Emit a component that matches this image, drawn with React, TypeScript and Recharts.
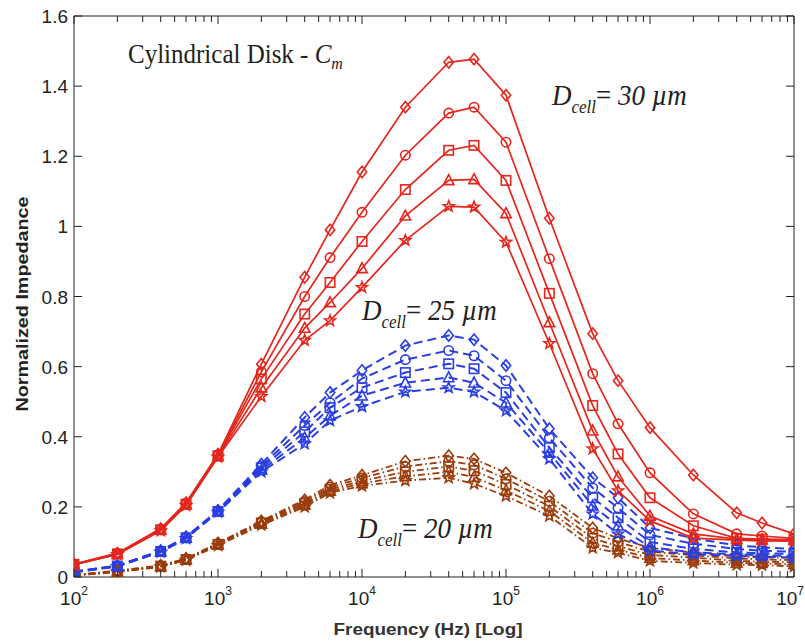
import { LineChart, Line, XAxis, YAxis, ReferenceArea } from 'recharts';

const W = 805;
const H = 643;
const PLOT = { left: 74, top: 16, right: 794, bottom: 577 };

const INK = '#222';
const RED = '#e4261c';
const BLUE = '#2a3fe0';
const BROWN = '#9a3c0c';
const SANS = "'Liberation Sans', Arial, sans-serif";
const SERIF = "'Liberation Serif', 'Times New Roman', serif";

// frequency points (Hz)
const freqs = [100, 200, 400, 600, 1e3, 2e3, 4e3, 6e3, 1e4, 2e4, 4e4, 6e4, 1e5, 2e5, 4e5, 6e5, 1e6, 2e6, 4e6, 6e6, 1e7];

const decadeTicks = [1e2, 1e3, 1e4, 1e5, 1e6, 1e7];
const minorSteps = [2, 3, 4, 5, 6, 7, 8, 9];
const yTicks = [0, 0.2, 0.4, 0.6, 0.8, 1, 1.2, 1.4, 1.6];

// D_cell = 30 um
const d30Diamond = [0.037, 0.068, 0.138, 0.212, 0.35, 0.607, 0.855, 0.99, 1.155, 1.34, 1.468, 1.477, 1.374, 1.023, 0.694, 0.56, 0.426, 0.291, 0.183, 0.154, 0.123];
const d30Circle = [0.036, 0.067, 0.136, 0.21, 0.348, 0.585, 0.8, 0.911, 1.04, 1.203, 1.323, 1.34, 1.24, 0.908, 0.58, 0.437, 0.297, 0.18, 0.123, 0.117, 0.11];
const d30Square = [0.036, 0.066, 0.135, 0.208, 0.346, 0.565, 0.75, 0.84, 0.957, 1.105, 1.217, 1.231, 1.131, 0.809, 0.489, 0.351, 0.226, 0.146, 0.11, 0.108, 0.107];
const d30Triangle = [0.035, 0.065, 0.134, 0.206, 0.344, 0.54, 0.71, 0.783, 0.88, 1.03, 1.131, 1.134, 1.037, 0.726, 0.417, 0.286, 0.174, 0.123, 0.108, 0.106, 0.105];
const d30Star = [0.035, 0.064, 0.132, 0.204, 0.342, 0.515, 0.675, 0.731, 0.826, 0.96, 1.057, 1.055, 0.955, 0.666, 0.366, 0.246, 0.16, 0.111, 0.105, 0.103, 0.102];

// D_cell = 25 um
const d25Diamond = [0.015, 0.033, 0.075, 0.115, 0.19, 0.322, 0.455, 0.526, 0.589, 0.66, 0.689, 0.677, 0.603, 0.423, 0.283, 0.226, 0.14, 0.11, 0.09, 0.085, 0.08];
const d25Circle = [0.015, 0.032, 0.074, 0.113, 0.188, 0.316, 0.432, 0.497, 0.566, 0.62, 0.646, 0.631, 0.56, 0.397, 0.254, 0.197, 0.12, 0.095, 0.08, 0.075, 0.072];
const d25Square = [0.014, 0.031, 0.073, 0.112, 0.187, 0.311, 0.414, 0.483, 0.54, 0.583, 0.608, 0.594, 0.526, 0.369, 0.226, 0.169, 0.1, 0.08, 0.07, 0.068, 0.066];
const d25Triangle = [0.014, 0.031, 0.072, 0.111, 0.186, 0.305, 0.397, 0.46, 0.517, 0.554, 0.569, 0.554, 0.497, 0.354, 0.203, 0.146, 0.085, 0.07, 0.065, 0.062, 0.06];
const d25Star = [0.013, 0.03, 0.071, 0.11, 0.185, 0.3, 0.38, 0.446, 0.486, 0.528, 0.54, 0.528, 0.474, 0.337, 0.18, 0.123, 0.075, 0.065, 0.06, 0.058, 0.055];

// D_cell = 20 um
const d20Diamond = [0.006, 0.018, 0.033, 0.053, 0.097, 0.16, 0.22, 0.262, 0.29, 0.33, 0.346, 0.337, 0.297, 0.231, 0.14, 0.11, 0.083, 0.07, 0.06, 0.055, 0.055];
const d20Circle = [0.005, 0.017, 0.032, 0.051, 0.095, 0.157, 0.215, 0.256, 0.282, 0.315, 0.33, 0.32, 0.28, 0.216, 0.125, 0.1, 0.072, 0.062, 0.053, 0.05, 0.048];
const d20Square = [0.005, 0.016, 0.031, 0.05, 0.093, 0.154, 0.21, 0.25, 0.274, 0.3, 0.315, 0.303, 0.264, 0.202, 0.11, 0.088, 0.063, 0.055, 0.046, 0.044, 0.042];
const d20Triangle = [0.004, 0.015, 0.03, 0.049, 0.092, 0.151, 0.205, 0.245, 0.267, 0.287, 0.3, 0.285, 0.247, 0.188, 0.097, 0.078, 0.054, 0.047, 0.04, 0.039, 0.036];
const d20Star = [0.004, 0.014, 0.029, 0.048, 0.09, 0.148, 0.2, 0.24, 0.26, 0.275, 0.283, 0.266, 0.231, 0.174, 0.083, 0.069, 0.046, 0.04, 0.035, 0.034, 0.03];

type Shape = 'diamond' | 'circle' | 'square' | 'triangle' | 'star';

type Series = { key: string; values: number[]; color: string; dash?: string; width: number; shape: Shape };

// drawn bottom to top: 20 um, 25 um, then 30 um
const series: Series[] = [
  { key: 'd20Diamond', values: d20Diamond, color: BROWN, dash: '7 3 1.5 3', width: 1.8, shape: 'diamond' },
  { key: 'd20Circle', values: d20Circle, color: BROWN, dash: '7 3 1.5 3', width: 1.8, shape: 'circle' },
  { key: 'd20Square', values: d20Square, color: BROWN, dash: '7 3 1.5 3', width: 1.8, shape: 'square' },
  { key: 'd20Triangle', values: d20Triangle, color: BROWN, dash: '7 3 1.5 3', width: 1.8, shape: 'triangle' },
  { key: 'd20Star', values: d20Star, color: BROWN, dash: '7 3 1.5 3', width: 1.8, shape: 'star' },
  { key: 'd25Diamond', values: d25Diamond, color: BLUE, dash: '9 5', width: 2, shape: 'diamond' },
  { key: 'd25Circle', values: d25Circle, color: BLUE, dash: '9 5', width: 2, shape: 'circle' },
  { key: 'd25Square', values: d25Square, color: BLUE, dash: '9 5', width: 2, shape: 'square' },
  { key: 'd25Triangle', values: d25Triangle, color: BLUE, dash: '9 5', width: 2, shape: 'triangle' },
  { key: 'd25Star', values: d25Star, color: BLUE, dash: '9 5', width: 2, shape: 'star' },
  { key: 'd30Diamond', values: d30Diamond, color: RED, width: 1.7, shape: 'diamond' },
  { key: 'd30Circle', values: d30Circle, color: RED, width: 1.7, shape: 'circle' },
  { key: 'd30Square', values: d30Square, color: RED, width: 1.7, shape: 'square' },
  { key: 'd30Triangle', values: d30Triangle, color: RED, width: 1.7, shape: 'triangle' },
  { key: 'd30Star', values: d30Star, color: RED, width: 1.7, shape: 'star' },
];

const rows = freqs.map((f, i) => {
  const row: Record<string, number> = { f };
  series.forEach((s) => {
    row[s.key] = s.values[i];
  });
  return row;
});

const xTicks = [
  ...decadeTicks,
  ...decadeTicks.slice(0, -1).flatMap((d) => minorSteps.map((m) => m * d)),
].sort((a, b) => a - b);

function Marker({ cx, cy, shape, color }: { cx?: number; cy?: number; shape: Shape; color: string }) {
  if (cx == null || cy == null) return null;
  const common = { fill: 'none', stroke: color, strokeWidth: 1.6 };
  const s = 4.7;
  switch (shape) {
    case 'diamond':
      return <polygon {...common} points={`${cx},${cy - s - 1} ${cx + s},${cy} ${cx},${cy + s + 1} ${cx - s},${cy}`} />;
    case 'circle':
      return <circle {...common} cx={cx} cy={cy} r={s} />;
    case 'square':
      return <rect {...common} x={cx - s} y={cy - s} width={2 * s} height={2 * s} />;
    case 'triangle':
      return <polygon {...common} points={`${cx},${cy - s - 1} ${cx + s + 0.5},${cy + s - 0.5} ${cx - s - 0.5},${cy + s - 0.5}`} />;
    default: {
      // five-pointed star
      const pts: string[] = [];
      for (let k = 0; k < 10; k++) {
        const r = k % 2 === 0 ? s + 1 : (s + 1) * 0.42;
        const a = -Math.PI / 2 + (k * Math.PI) / 5;
        pts.push(`${cx + r * Math.cos(a)},${cy + r * Math.sin(a)}`);
      }
      return <polygon {...common} points={pts.join(' ')} />;
    }
  }
}

function XTick({ x, payload }: any) {
  const v = payload.value as number;
  const lg = Math.log10(v);
  const exp = Math.round(lg);
  const major = Math.abs(lg - exp) < 1e-6;
  const len = major ? 8 : 6;
  // the last decade label is pulled in so it stays on the canvas
  const last = v === decadeTicks[decadeTicks.length - 1];
  return (
    <g>
      <line x1={x} x2={x} y1={PLOT.bottom} y2={PLOT.bottom - len} stroke={INK} strokeWidth={1} />
      <line x1={x} x2={x} y1={PLOT.top} y2={PLOT.top + len} stroke={INK} strokeWidth={1} />
      {major && (
        <text
          x={last ? W - 1 : x}
          y={PLOT.bottom + 28}
          textAnchor={last ? 'end' : 'middle'}
          fontSize={19}
          fill={INK}
          fontFamily={SANS}
        >
          10
          <tspan fontSize={12} dy={-10}>{exp}</tspan>
        </text>
      )}
    </g>
  );
}

function YTick({ y, payload }: any) {
  const v = payload.value as number;
  const label = v === 0 || v === 1 ? String(v) : v.toFixed(1);
  return (
    <g>
      <line x1={PLOT.left} x2={PLOT.left + 8} y1={y} y2={y} stroke={INK} strokeWidth={1} />
      <line x1={PLOT.right - 8} x2={PLOT.right} y1={y} y2={y} stroke={INK} strokeWidth={1} />
      <text x={PLOT.left - 6} y={y + 7} textAnchor="end" fontSize={19} fill={INK} fontFamily={SANS}>
        {label}
      </text>
    </g>
  );
}

function CellLabel({ x, y, size }: { x: number; y: number; size: string }) {
  return (
    <text transform={`translate(${x},${y}) scale(1,1.1)`} x={0} y={0} fontSize={27} fill={INK} fontFamily={SERIF}>
      <tspan fontStyle="italic">D</tspan>
      <tspan fontStyle="italic" fontSize={17} dy={7}>cell</tspan>
      <tspan dy={-7}>=</tspan>
      <tspan fontStyle="italic">{`  ${size} \u00b5m`}</tspan>
    </text>
  );
}

export default function App() {
  return (
    <div style={{ position: 'absolute', left: 0, top: 0, width: W, height: H, background: '#fff' }}>
      <LineChart
        width={W}
        height={H}
        data={rows}
        margin={{ top: PLOT.top, right: W - PLOT.right, bottom: 26, left: 14 }}
      >
        <XAxis
          dataKey="f"
          type="number"
          scale="log"
          domain={[100, 1e7]}
          ticks={xTicks}
          interval={0}
          height={40}
          axisLine={false}
          tickLine={false}
          tick={(p: any) => <XTick key={`xt-${p.index}`} {...p} />}
          allowDataOverflow
        />
        <YAxis
          type="number"
          domain={[0, 1.6]}
          ticks={yTicks}
          interval={0}
          width={60}
          axisLine={false}
          tickLine={false}
          tick={(p: any) => <YTick key={`yt-${p.index}`} {...p} />}
          allowDataOverflow
        />
        <ReferenceArea x1={100} x2={1e7} y1={0} y2={1.6} fill="none" stroke={INK} strokeWidth={1} fillOpacity={0} />
        {series.map((s) => (
          <Line
            key={s.key}
            dataKey={s.key}
            type="linear"
            stroke={s.color}
            strokeWidth={s.width}
            strokeDasharray={s.dash}
            isAnimationActive={false}
            activeDot={false}
            dot={(p: any) => <Marker key={`${s.key}-${p.index}`} cx={p.cx} cy={p.cy} shape={s.shape} color={s.color} />}
          />
        ))}
      </LineChart>
      <svg width={W} height={H} style={{ position: 'absolute', left: 0, top: 0, pointerEvents: 'none' }}>
        <text
          x={22}
          y={304}
          transform="rotate(-90, 22, 304)"
          textAnchor="middle"
          dominantBaseline="central"
          fontSize={16}
          fontWeight="bold"
          fill={INK}
          textLength={215}
          lengthAdjust="spacingAndGlyphs"
          fontFamily={SANS}
        >
          Normalized Impedance
        </text>
        <text
          x={428}
          y={635}
          textAnchor="middle"
          fontSize={17}
          fontWeight="bold"
          fill="#333"
          textLength={189}
          lengthAdjust="spacingAndGlyphs"
          fontFamily={SANS}
        >
          Frequency (Hz) [Log]
        </text>
        <text transform="translate(128,63) scale(1,1.1)" x={0} y={0} fontSize={25} fill={INK} fontFamily={SERIF}>
          Cylindrical Disk - <tspan fontStyle="italic">C</tspan>
          <tspan fontStyle="italic" fontSize={16} dy={5}>m</tspan>
        </text>
        <CellLabel x={552} y={105} size="30" />
        <CellLabel x={362} y={320} size="25" />
        <CellLabel x={358} y={538} size="20" />
      </svg>
    </div>
  );
}
